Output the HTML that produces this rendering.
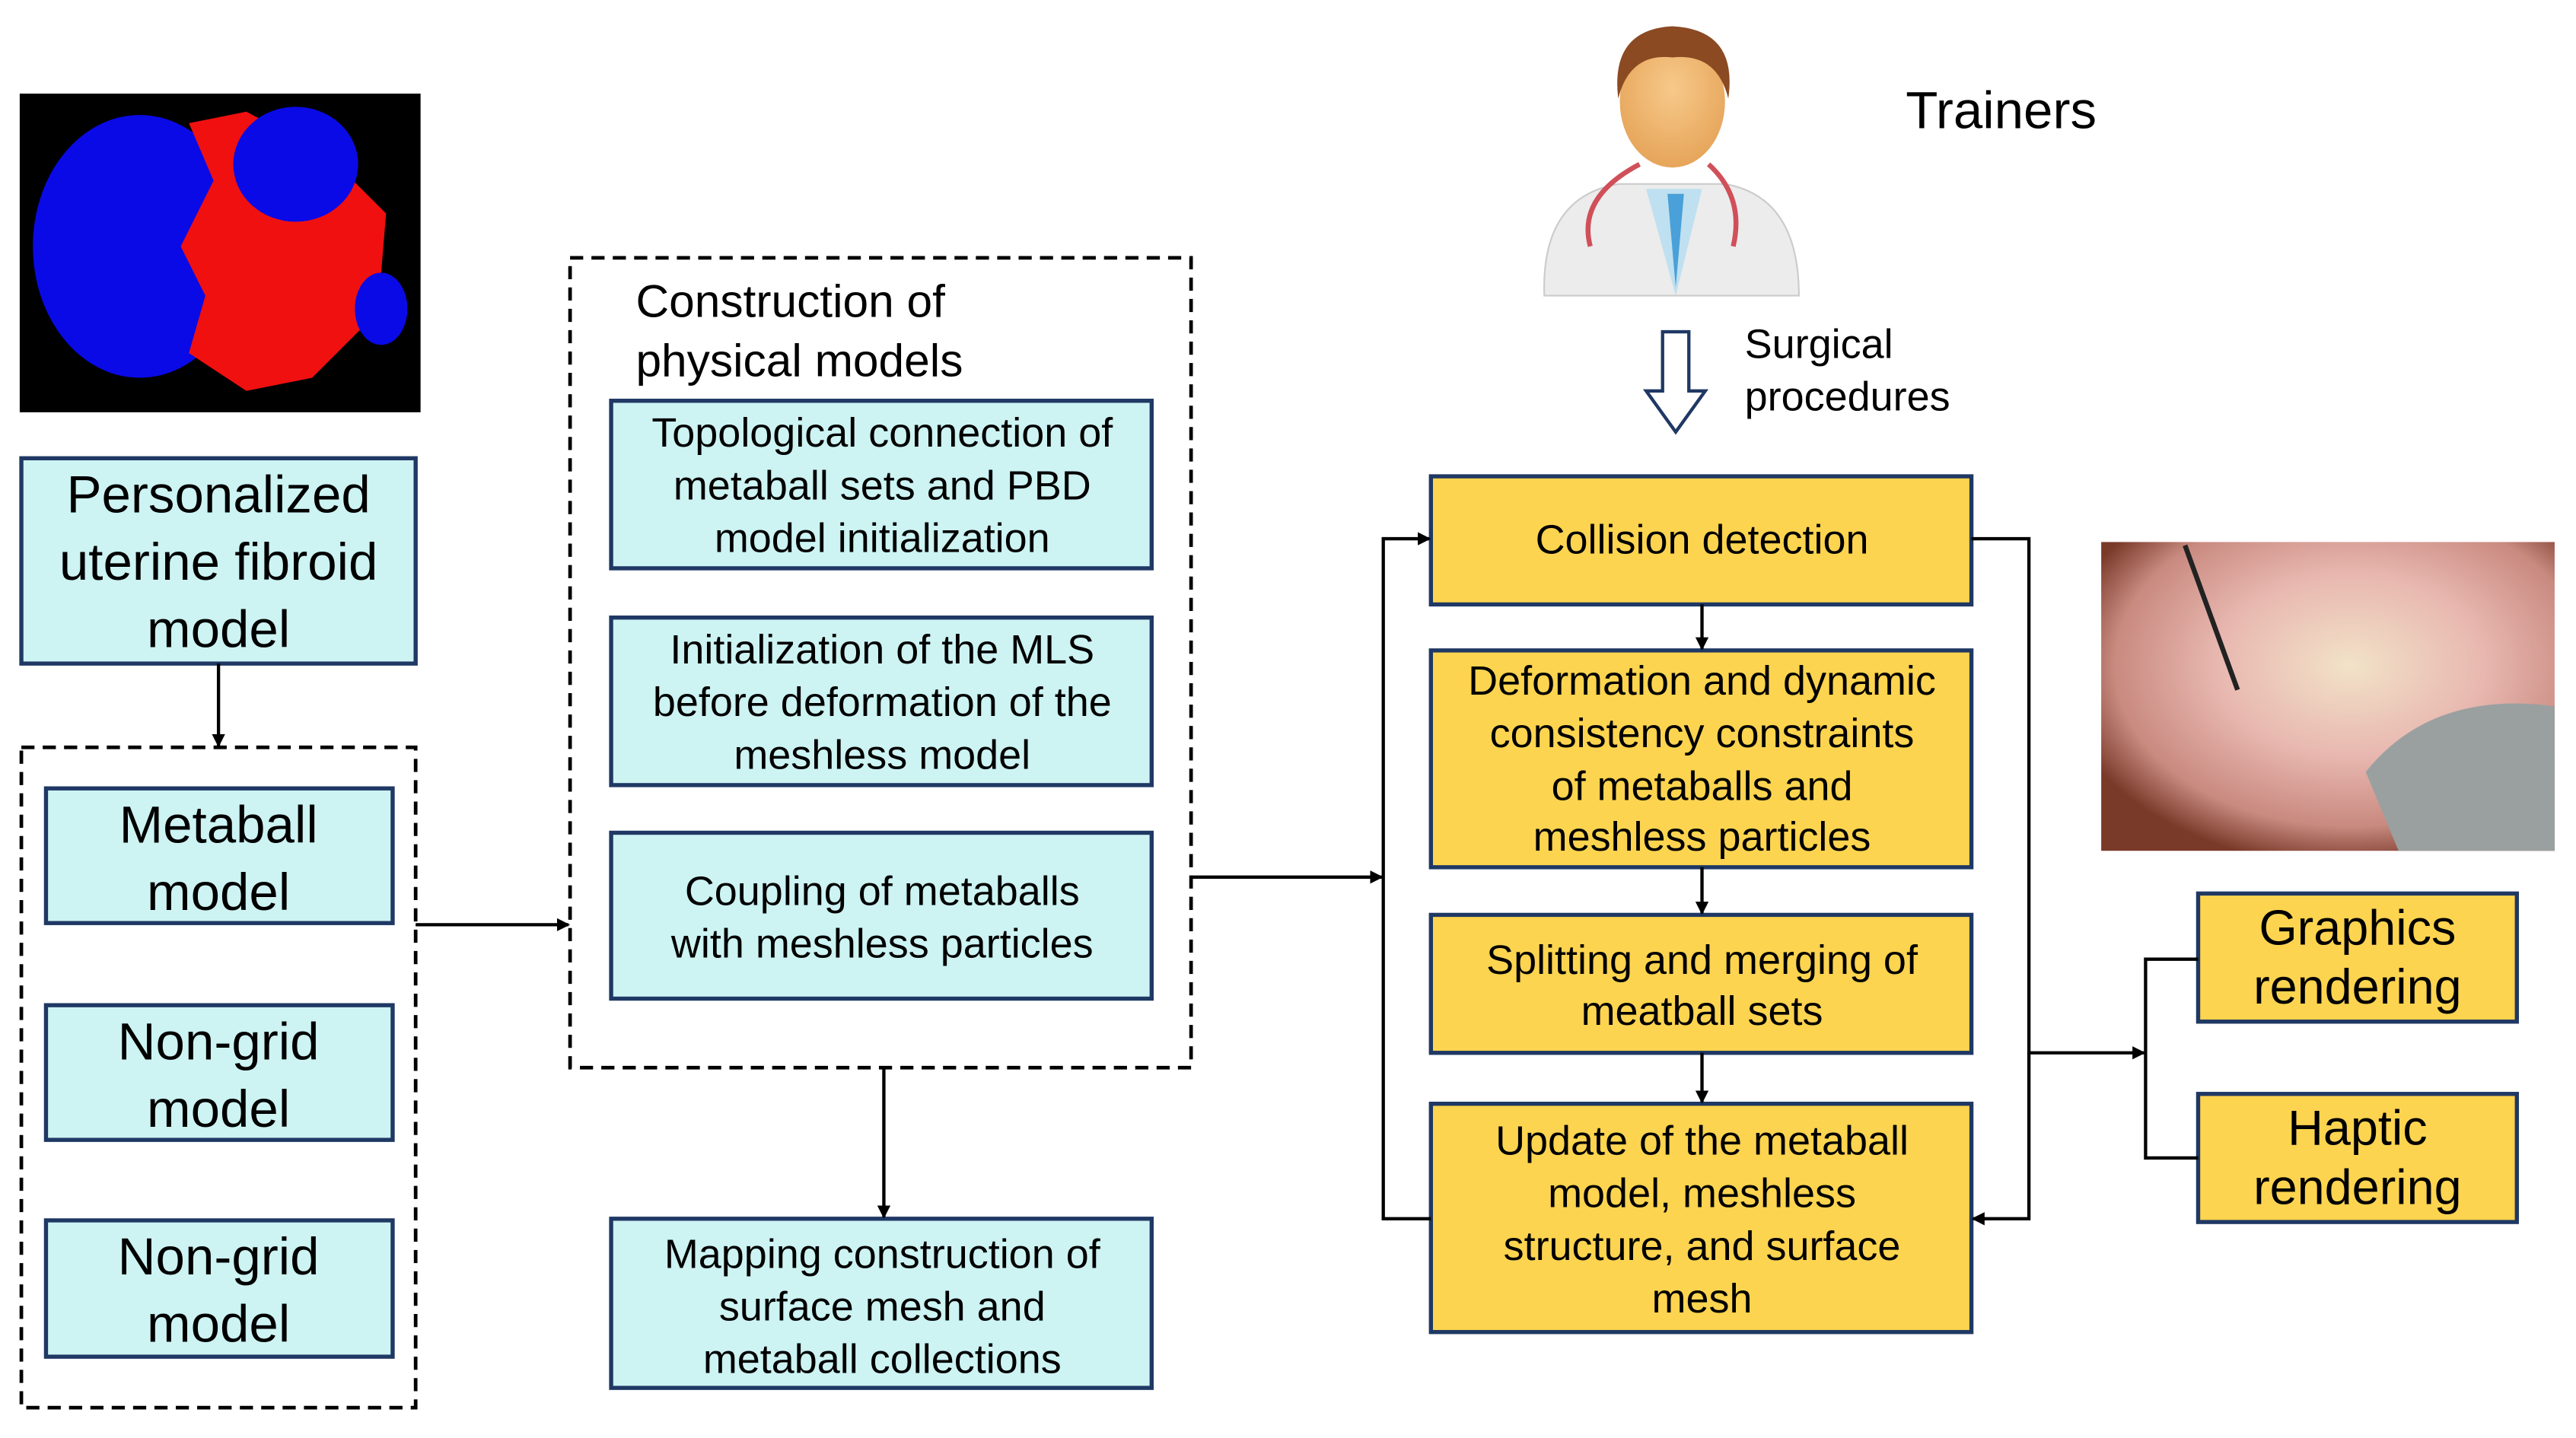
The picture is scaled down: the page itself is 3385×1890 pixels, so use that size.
<!DOCTYPE html>
<html><head><meta charset="utf-8"><style>html,body{margin:0;padding:0;background:#fff}svg{display:block}</style></head>
<body>
<svg width="3385" height="1890" viewBox="0 0 1568 875.5" preserveAspectRatio="none" xmlns="http://www.w3.org/2000/svg" font-family="Liberation Sans, sans-serif">
<defs>
<marker id="a" markerWidth="8" markerHeight="8" refX="7" refY="4" orient="auto" markerUnits="userSpaceOnUse"><path d="M0,0 L8,4 L0,8 z" fill="#000"/></marker>
<radialGradient id="sk" cx="0.5" cy="0.4" r="0.6"><stop offset="0" stop-color="#f7c98a"/><stop offset="1" stop-color="#e6a55a"/></radialGradient>
<radialGradient id="ph" cx="0.55" cy="0.4" r="0.65"><stop offset="0" stop-color="#f2e2c8"/><stop offset="0.45" stop-color="#e8b8b0"/><stop offset="0.8" stop-color="#c98a80"/><stop offset="1" stop-color="#7a3a2a"/></radialGradient>
</defs>
<rect x="12" y="57" width="244" height="194" fill="#000"/>
<ellipse cx="85" cy="150" rx="65" ry="80" fill="#0a0ae6"/>
<path d="M115,75 L150,68 L200,95 L235,130 L230,190 L190,230 L150,238 L115,215 L125,180 L110,150 L130,110 Z" fill="#f01010"/>
<ellipse cx="180" cy="100" rx="38" ry="35" fill="#0a0ae6"/>
<ellipse cx="232" cy="188" rx="16" ry="22" fill="#0a0ae6"/>
<g stroke="#1f3864" stroke-width="2.5" fill="#cdf3f3">
<rect x="13" y="279" width="240" height="125"/>
<rect x="28" y="480" width="211" height="82"/>
<rect x="28" y="612" width="211" height="82"/>
<rect x="28" y="743" width="211" height="83"/>
<rect x="372" y="244" width="329" height="102"/>
<rect x="372" y="376" width="329" height="102"/>
<rect x="372" y="507" width="329" height="101"/>
<rect x="372" y="742" width="329" height="103"/>
</g>
<g stroke="#1f3864" stroke-width="2.5" fill="#fdd44f">
<rect x="871" y="290" width="329" height="78"/>
<rect x="871" y="396" width="329" height="132"/>
<rect x="871" y="557" width="329" height="84"/>
<rect x="871" y="672" width="329" height="139"/>
<rect x="1338" y="544" width="194" height="78"/>
<rect x="1338" y="666" width="194" height="78"/>
</g>
<g fill="none" stroke="#000" stroke-width="2.2" stroke-dasharray="8,5">
<rect x="13" y="455" width="240" height="402"/>
<rect x="347" y="157" width="378" height="493"/>
</g>
<g stroke="#000" stroke-width="2" fill="none">
<line x1="133" y1="404" x2="133" y2="454" marker-end="url(#a)"/>
<line x1="253" y1="563" x2="346" y2="563" marker-end="url(#a)"/>
<line x1="538" y1="650" x2="538" y2="741" marker-end="url(#a)"/>
<line x1="725" y1="534" x2="841" y2="534" marker-end="url(#a)"/>
<polyline points="871,742 842,742 842,328 870,328" marker-end="url(#a)"/>
<line x1="1036" y1="368" x2="1036" y2="395" marker-end="url(#a)"/>
<line x1="1036" y1="528" x2="1036" y2="556" marker-end="url(#a)"/>
<line x1="1036" y1="641" x2="1036" y2="671" marker-end="url(#a)"/>
<polyline points="1200,328 1235,328 1235,742 1201,742" marker-end="url(#a)"/>
<line x1="1235" y1="641" x2="1305" y2="641" marker-end="url(#a)"/>
<polyline points="1338,584 1306,584 1306,705 1338,705"/>
</g>
<path d="M940,180 Q938,120 985,112 L1050,112 Q1095,120 1095,180 Z" fill="#ececec" stroke="#ccc"/>
<path d="M1002,115 L1020,180 L1036,115 Z" fill="#bfe0f0"/>
<path d="M1015,118 L1020,175 L1025,118 Z" fill="#4aa0d8"/>
<ellipse cx="1018" cy="62" rx="32" ry="40" fill="url(#sk)"/>
<path d="M985,60 Q980,18 1018,16 Q1058,18 1052,60 Q1045,32 1018,35 Q992,32 985,60 Z" fill="#8b4a22"/>
<path d="M998,100 Q960,120 968,150" stroke="#d0505a" stroke-width="3" fill="none"/>
<path d="M1040,100 Q1062,120 1055,150" stroke="#d0505a" stroke-width="3" fill="none"/>
<text x="1160" y="78" font-size="32" fill="#000">Trainers</text>
<path d="M1012,202 L1028,202 L1028,238 L1038,238 L1020,263 L1002,238 L1012,238 Z" fill="#fff" stroke="#1f3864" stroke-width="2"/>
<text x="1062" y="218" font-size="25">Surgical</text>
<text x="1062" y="250" font-size="25">procedures</text>
<rect x="1279" y="330" width="276" height="188" fill="url(#ph)"/>
<path d="M1440,470 Q1480,420 1555,430 L1555,518 L1460,518 Z" fill="#9aa0a0"/>
<line x1="1330" y1="332" x2="1362" y2="420" stroke="#222" stroke-width="3"/>
<g font-size="32" text-anchor="middle" fill="#000">
<text x="133" y="312">Personalized</text><text x="133" y="353">uterine fibroid</text><text x="133" y="394">model</text>
<text x="133" y="513">Metaball</text><text x="133" y="554">model</text>
<text x="133" y="645">Non-grid</text><text x="133" y="686">model</text>
<text x="133" y="776">Non-grid</text><text x="133" y="817">model</text>
</g>
<g font-size="28" fill="#000"><text x="387" y="193">Construction of</text><text x="387" y="229">physical models</text></g>
<g font-size="25" text-anchor="middle" fill="#000">
<text x="537" y="272">Topological connection of</text><text x="537" y="304">metaball sets and PBD</text><text x="537" y="336">model initialization</text>
<text x="537" y="404">Initialization of the MLS</text><text x="537" y="436">before deformation of the</text><text x="537" y="468">meshless model</text>
<text x="537" y="551">Coupling of metaballs</text><text x="537" y="583">with meshless particles</text>
<text x="537" y="772">Mapping construction of</text><text x="537" y="804">surface mesh and</text><text x="537" y="836">metaball collections</text>
<text x="1036" y="337">Collision detection</text>
<text x="1036" y="423">Deformation and dynamic</text><text x="1036" y="455">consistency constraints</text><text x="1036" y="487">of metaballs and</text><text x="1036" y="518">meshless particles</text>
<text x="1036" y="593">Splitting and merging of</text><text x="1036" y="624">meatball sets</text>
<text x="1036" y="703">Update of the metaball</text><text x="1036" y="735">model, meshless</text><text x="1036" y="767">structure, and surface</text><text x="1036" y="799">mesh</text>
</g>
<g font-size="30" text-anchor="middle" fill="#000">
<text x="1435" y="575">Graphics</text><text x="1435" y="611">rendering</text>
<text x="1435" y="697">Haptic</text><text x="1435" y="733">rendering</text>
</g>
</svg>
</body></html>
